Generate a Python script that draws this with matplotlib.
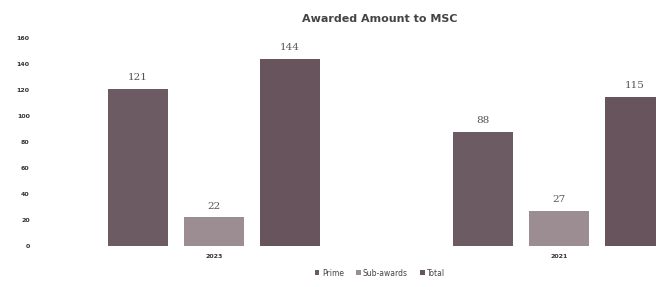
import matplotlib

matplotlib.use("Agg")
import matplotlib.pyplot as plt
import numpy as np

# Values
years = ["2023", "2021"]
prime = [121, 88]
sub_awards = [22, 27]
total = [144, 115]
series_names = ["Prime", "Sub-awards", "Total"]
y_ticks = [0, 20, 40, 60, 80, 100, 120, 140, 160]

colors = ["#6c5b63", "#9c8d93", "#67545d"]

fig = plt.figure(figsize=(6.56, 2.87), dpi=100)
ax = fig.add_axes([45 / 656, 1 - 246 / 287, 1 - 45 / 656, (246 - 38) / 287])

x = np.arange(len(years))
step = 0.22
width = 0.174
for i, (vals, name, col) in enumerate(zip([prime, sub_awards, total], series_names, colors)):
    bars = ax.bar(x + (i - 1) * step, vals, width, color=col, label=name)
    for b, v in zip(bars, vals):
        ax.text(b.get_x() + b.get_width() / 2, v + 5, str(v), ha="center", va="bottom",
                fontsize=7.5, color="#555555", family="DejaVu Serif")

ax.set_xlim(-0.49, 1.281)
ax.set_ylim(0, 160)
ax.set_yticks(y_ticks)
ax.set_yticklabels([str(t) for t in y_ticks], fontsize=4.5, color="#333333", fontweight="bold")
ax.set_xticks(x)
ax.set_xticklabels(years, fontsize=4.5, color="#333333", fontweight="bold")
ax.tick_params(length=0, pad=11, axis="y")
ax.tick_params(length=0, pad=6, axis="x")
for s in ax.spines.values():
    s.set_visible(False)

fig.text(380 / 656, 1 - 19 / 287, "Awarded Amount to MSC", ha="center",
         va="center", fontsize=8, fontweight="bold", color="#444444")

leg = fig.legend(loc="center", bbox_to_anchor=(380 / 656, 1 - 273 / 287), ncol=3,
                 frameon=False, fontsize=5.5, handlelength=0.6, handleheight=0.6,
                 handletextpad=0.3, columnspacing=1.6)
for t in leg.get_texts():
    t.set_color("#444444")

fig.savefig("out.png", dpi=100)
plt.close(fig)
